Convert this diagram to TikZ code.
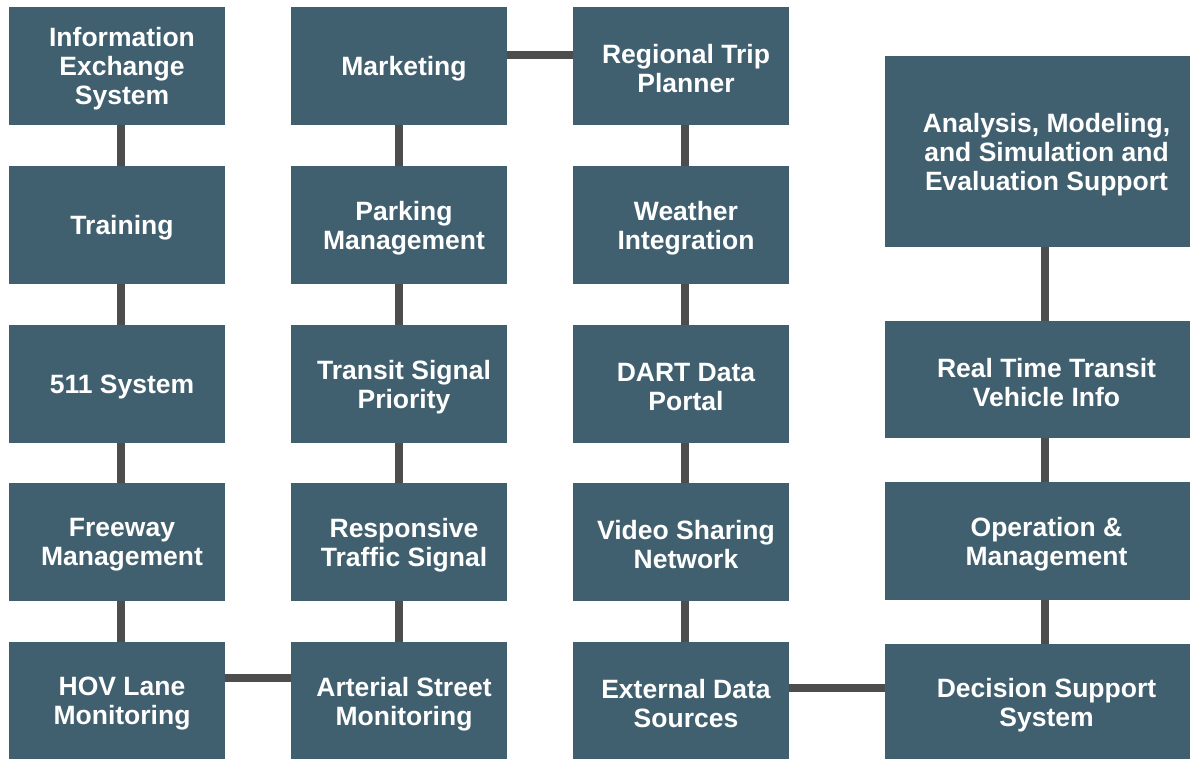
\documentclass[tikz,border=0pt]{standalone}
\usepackage{fontspec}
\setmainfont{Liberation Sans}
\definecolor{boxc}{HTML}{41606F}
\definecolor{linec}{HTML}{4D4D4D}
\begin{document}
\begin{tikzpicture}[x=1pt,y=-1pt,
 box/.style={fill=boxc, inner sep=0pt, outer sep=0pt, anchor=north west, minimum width=216pt, minimum height=118pt},
 wbox/.style={box, minimum width=315pt},
 lbl/.style={text=white, font=\fontsize{26.5}{29}\selectfont\bfseries, align=center, inner sep=0pt, yshift=-3pt},
 conn/.style={draw=linec, line width=8pt}]
\useasboundingbox (0,0) rectangle (1190,759);
\clip (0,0) rectangle (1190,759);
% column 1
\node[box] (ies) at (9,7) {};
\node[box] (trn) at (9,166) {};
\node[box] (sys) at (9,325) {};
\node[box] (fwy) at (9,483) {};
\node[box] (hov) at (9,642) {};
% column 2
\node[box] (mkt) at (291,7) {};
\node[box] (pkg) at (291,166) {};
\node[box] (tsp) at (291,325) {};
\node[box] (rts) at (291,483) {};
\node[box] (asm) at (291,642) {};
% column 3
\node[box] (rtp) at (573,7) {};
\node[box] (wth) at (573,166) {};
\node[box] (dart) at (573,325) {};
\node[box] (vsn) at (573,483) {};
\node[box] (ext) at (573,642) {};
% column 4
\node[wbox, minimum height=191pt] (ams) at (885,56) {};
\node[wbox, minimum height=117pt] (rtv) at (885,321) {};
\node[wbox, minimum height=118pt] (opm) at (885,482) {};
\node[wbox, minimum height=116pt] (dss) at (885,644) {};
% labels
\node[lbl] (iesT) at ([xshift=5pt]ies.center) {Information\\Exchange\\System};
\node[lbl] (trnT) at ([xshift=5pt]trn.center) {Training};
\node[lbl] (sysT) at ([xshift=5pt]sys.center) {511 System};
\node[lbl] (fwyT) at ([xshift=5pt]fwy.center) {Freeway\\Management};
\node[lbl] (hovT) at ([xshift=5pt]hov.center) {HOV Lane\\Monitoring};
\node[lbl] (mktT) at ([xshift=5pt]mkt.center) {Marketing};
\node[lbl] (pkgT) at ([xshift=5pt]pkg.center) {Parking\\Management};
\node[lbl] (tspT) at ([xshift=5pt]tsp.center) {Transit Signal\\Priority};
\node[lbl] (rtsT) at ([xshift=5pt]rts.center) {Responsive\\Traffic Signal};
\node[lbl] (asmT) at ([xshift=5pt]asm.center) {Arterial Street\\Monitoring};
\node[lbl] (rtpT) at ([xshift=5pt]rtp.center) {Regional Trip\\Planner};
\node[lbl] (wthT) at ([xshift=5pt]wth.center) {Weather\\Integration};
\node[lbl] (dartT) at ([xshift=5pt]dart.center) {DART Data\\Portal};
\node[lbl] (vsnT) at ([xshift=5pt]vsn.center) {Video Sharing\\Network};
\node[lbl] (extT) at ([xshift=5pt]ext.center) {External Data\\Sources};
\node[lbl] (amsT) at ([xshift=4pt]ams.center) {Analysis, Modeling,\\and Simulation and\\Evaluation Support};
\node[lbl] (rtvT) at ([xshift=4pt]rtv.center) {Real Time Transit\\Vehicle Info};
\node[lbl] (opmT) at ([xshift=4pt]opm.center) {Operation \&\\Management};
\node[lbl] (dssT) at ([xshift=4pt]dss.center) {Decision Support\\System};
% vertical connectors
\foreach \a/\b in {ies/trn,trn/sys,sys/fwy,fwy/hov}
  \draw[conn] ([xshift=4pt]\a.south) -- ([xshift=4pt]\b.north);
\foreach \a/\b in {mkt/pkg,pkg/tsp,tsp/rts,rts/asm}
  \draw[conn] (\a.south) -- (\b.north);
\foreach \a/\b in {rtp/wth,wth/dart,dart/vsn,vsn/ext}
  \draw[conn] ([xshift=3.5pt]\a.south) -- ([xshift=3.5pt]\b.north);
\foreach \a/\b in {ams/rtv,rtv/opm,opm/dss}
  \draw[conn] ([xshift=2.5pt]\a.south) -- ([xshift=2.5pt]\b.north);
% horizontal connectors
\draw[conn] (mkt.east |- 0,55) -- (rtp.west |- 0,55);
\draw[conn] (hov.east |- 0,678) -- (asm.west |- 0,678);
\draw[conn] (ext.east |- 0,688) -- (dss.west |- 0,688);
\end{tikzpicture}
\end{document}
